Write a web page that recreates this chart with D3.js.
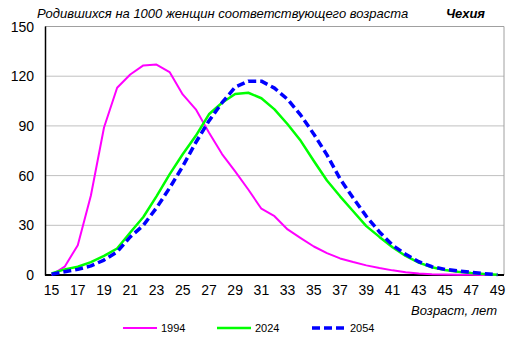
<!DOCTYPE html>
<html>
<head>
<meta charset="utf-8">
<script src="https://cdn.jsdelivr.net/npm/d3@7"></script>
<style>
body { margin:0; background:#fff; }
text { font-family: "Liberation Sans", Arial, sans-serif; fill:#000; }
</style>
</head>
<body>
<div class="chart"></div>
<script>
var ages = d3.range(15, 50);
var yTicks = [0, 30, 60, 90, 120, 150];
var xTickLabels = [15,17,19,21,23,25,27,29,31,33,35,37,39,41,43,45,47,49];

var years = ["1994", "2024", "2054"];
var v1994 = [0,5,18,48,89,113,121,126.5,127,122.5,109,100,86,73,62.5,51.6,40,35.5,27.5,22.3,17.2,13.2,10,7.8,5.8,4.2,2.8,1.6,0.9,0.5,0.3,0.2,0.1,0.05,0];
var v2024 = [1,3.4,5,7.8,11.5,16,25.7,35,47.5,60.7,72.9,84,97,104,109.3,110,106.7,100,91,81,68.8,57,47.5,38.5,29.5,23,16.8,11.5,7.5,4.7,3,2,1.2,0.6,0.2];
var v2054 = [0.5,2,3.4,5.5,9,14,23,30,40.5,52.5,65.5,80,93,104,113.4,117,117,112.8,106,96.5,85,72.5,58,46.5,35.4,26,18,12.5,8,5,3.4,2.5,1.6,0.8,0.2];

var series = [
  {name:years[0], values:v1994, color:"#ff00ff", width:2, dash:null},
  {name:years[1], values:v2024, color:"#00ff00", width:2.5, dash:null},
  {name:years[2], values:v2054, color:"#0000ff", width:3.5, dash:"8,4"}
];

var svg = d3.select("body div.chart").append("svg").attr("width", 519).attr("height", 352);

var x = d3.scaleBand().domain(ages).range([45, 504]);
var y = d3.scaleLinear().domain([0, 150]).range([275, 26.5]);

// grid
svg.selectAll("line.grid")
    .data(yTicks.slice(1))
    .enter().append("line")
        .attr("class", "grid")
        .attr("x1", 45).attr("x2", 504)
        .attr("y1", function(d) {return y(d);})
        .attr("y2", function(d) {return y(d);})
        .attr("stroke", function(d) {return d == 150 ? "#a0a0a0" : "#c0c0c0";})
        .attr("stroke-width", 1);

svg.append("line").attr("x1", 504).attr("x2", 504).attr("y1", y(150)).attr("y2", y(0))
    .attr("stroke", "#a0a0a0").attr("stroke-width", 1);

// y labels
svg.selectAll("text.ylab")
    .data(yTicks)
    .enter().append("text")
        .attr("class", "ylab")
        .attr("x", 34)
        .attr("y", function(d) {return y(d) + 5;})
        .attr("text-anchor", "end")
        .style("font-size", "14px")
        .text(function(d) {return d;});

// x labels
svg.selectAll("text.xlab")
    .data(xTickLabels)
    .enter().append("text")
        .attr("class", "xlab")
        .attr("x", function(d) {return x(d) + x.bandwidth() / 2;})
        .attr("y", 295)
        .attr("text-anchor", "middle")
        .style("font-size", "14px")
        .text(function(d) {return d;});

// axes lines
svg.append("line").attr("x1", 45.5).attr("x2", 45.5).attr("y1", y(150)).attr("y2", y(0) + 0.5)
    .attr("stroke", "#000").attr("stroke-width", 1.5);
svg.append("line").attr("x1", 45).attr("x2", 504).attr("y1", y(0)).attr("y2", y(0))
    .attr("stroke", "#000").attr("stroke-width", 2);

var line = d3.line()
    .x(function(d, i) {return x(ages[i]) + x.bandwidth() / 2;})
    .y(function(d) {return y(d);});

svg.selectAll("path.series")
    .data(series)
    .enter().append("path")
        .attr("class", "series")
        .attr("d", function(d) {return line(d.values);})
        .attr("fill", "none")
        .attr("stroke", function(d) {return d.color;})
        .attr("stroke-width", function(d) {return d.width;})
        .attr("stroke-dasharray", function(d) {return d.dash;})
        .attr("stroke-linejoin", "round");

// titles
svg.append("text").attr("x", 37).attr("y", 18)
    .style("font-size", "13px").style("font-style", "italic")
    .text("Родившихся на 1000 женщин соответствующего возраста");
svg.append("text").attr("x", 485).attr("y", 18).attr("text-anchor", "end")
    .style("font-size", "13px").style("font-style", "italic").style("font-weight", "bold")
    .text("Чехия");
svg.append("text").attr("x", 497).attr("y", 315).attr("text-anchor", "end")
    .style("font-size", "13px").style("font-style", "italic")
    .text("Возраст, лет");

// legend
var legX = [123, 217, 312];
var leg = svg.selectAll("g.leg")
    .data(series)
    .enter().append("g")
        .attr("class", "leg")
        .attr("transform", function(d, i) {return "translate(" + legX[i] + ",328)";});
leg.append("line").attr("x1", 0).attr("x2", 34).attr("y1", 0).attr("y2", 0)
    .attr("stroke", function(d) {return d.color;})
    .attr("stroke-width", function(d) {return d.width;})
    .attr("stroke-dasharray", function(d) {return d.dash;});
leg.append("text").attr("x", 38).attr("y", 4)
    .style("font-size", "11px")
    .text(function(d) {return d.name;});
</script>
</body>
</html>
